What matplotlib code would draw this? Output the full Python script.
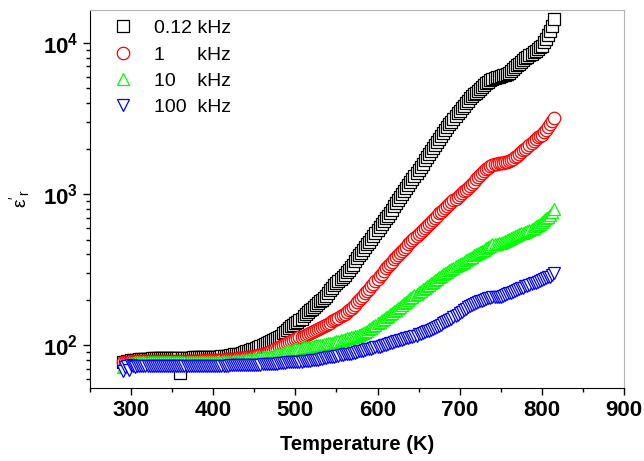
import matplotlib
matplotlib.use("Agg")
import matplotlib.pyplot as plt
from matplotlib.ticker import MultipleLocator, LogLocator, NullFormatter

plt.rcParams['font.family'] = 'Liberation Sans'
plt.rcParams['mathtext.fontset'] = 'custom'
plt.rcParams['mathtext.rm'] = 'Liberation Sans'
plt.rcParams['mathtext.bf'] = 'Liberation Sans:bold'
plt.rcParams['mathtext.it'] = 'Liberation Sans:italic'
plt.rcParams['mathtext.default'] = 'bf'

# temperature (K)
temp = [290.0, 292.5, 295.0, 297.5, 300.0, 302.5, 305.0, 307.5, 310.0, 312.5,
        315.0, 317.5, 320.0, 322.5, 325.0, 327.5, 330.0, 332.5, 335.0, 337.5,
        340.0, 342.5, 345.0, 347.5, 350.0, 352.5, 355.0, 357.5, 360.0, 362.5,
        365.0, 367.5, 370.0, 372.5, 375.0, 377.5, 380.0, 382.5, 385.0, 387.5,
        390.0, 392.5, 395.0, 397.5, 400.0, 402.5, 405.0, 407.5, 410.0, 412.5,
        415.0, 417.5, 420.0, 422.5, 425.0, 427.5, 430.0, 432.5, 435.0, 437.5,
        440.0, 442.5, 445.0, 447.5, 450.0, 452.5, 455.0, 457.5, 460.0, 462.5,
        465.0, 467.5, 470.0, 472.5, 475.0, 477.5, 480.0, 482.5, 485.0, 487.5,
        490.0, 492.5, 495.0, 497.5, 500.0, 502.5, 505.0, 507.5, 510.0, 512.5,
        515.0, 517.5, 520.0, 522.5, 525.0, 527.5, 530.0, 532.5, 535.0, 537.5,
        540.0, 542.5, 545.0, 547.5, 550.0, 552.5, 555.0, 557.5, 560.0, 562.5,
        565.0, 567.5, 570.0, 572.5, 575.0, 577.5, 580.0, 582.5, 585.0, 587.5,
        590.0, 592.5, 595.0, 597.5, 600.0, 602.5, 605.0, 607.5, 610.0, 612.5,
        615.0, 617.5, 620.0, 622.5, 625.0, 627.5, 630.0, 632.5, 635.0, 637.5,
        640.0, 642.5, 645.0, 647.5, 650.0, 652.5, 655.0, 657.5, 660.0, 662.5,
        665.0, 667.5, 670.0, 672.5, 675.0, 677.5, 680.0, 682.5, 685.0, 687.5,
        690.0, 692.5, 695.0, 697.5, 700.0, 702.5, 705.0, 707.5, 710.0, 712.5,
        715.0, 717.5, 720.0, 722.5, 725.0, 727.5, 730.0, 732.5, 735.0, 737.5,
        740.0, 742.5, 745.0, 747.5, 750.0, 752.5, 755.0, 757.5, 760.0, 762.5,
        765.0, 767.5, 770.0, 772.5, 775.0, 777.5, 780.0, 782.5, 785.0, 787.5,
        790.0, 792.5, 795.0, 797.5, 800.0, 802.5, 805.0, 807.5, 810.0, 812.5,
        815.0]

# dielectric constant at 0.12 kHz
eps_012k = [78, 78, 79, 79, 80, 80, 80, 80, 81, 81,
            81, 81, 81, 81, 82, 82, 82, 82, 82, 82,
            82, 82, 82, 82, 82, 82, 82, 82, 66, 82,
            82, 82, 82, 82, 83, 83, 83, 83, 83, 83,
            83, 83, 83, 83, 84, 84, 84, 84, 85, 85,
            85, 85, 86, 86, 87, 87, 88, 88, 89, 90,
            91, 92, 93, 94, 95, 96, 98, 99, 101, 102,
            104, 105, 107, 108, 110, 111, 113, 116, 120, 123,
            127, 130, 134, 137, 140, 143, 146, 150, 155, 160,
            165, 170, 175, 180, 185, 190, 195, 200, 205, 213,
            222, 231, 240, 250, 260, 268, 276, 284, 293, 304,
            315, 327, 340, 360, 380, 395, 410, 427, 445, 465,
            485, 507, 530, 555, 580, 605, 630, 660, 690, 720,
            750, 790, 830, 870, 910, 955, 1000, 1050, 1100, 1150,
            1200, 1260, 1320, 1385, 1450, 1520, 1590, 1670, 1750, 1835,
            1920, 2010, 2100, 2200, 2300, 2410, 2520, 2640, 2760, 2890,
            3020, 3160, 3300, 3420, 3550, 3700, 3850, 4000, 4150, 4300,
            4450, 4580, 4700, 4820, 4950, 5100, 5250, 5400, 5550, 5680,
            5800, 5880, 5950, 6000, 6050, 6100, 6150, 6250, 6350, 6520,
            6700, 6900, 7100, 7300, 7500, 7700, 7900, 8100, 8300, 8500,
            8700, 8900, 9100, 9350, 9600, 10100, 10600, 11300, 12000, 13000,
            14500]

# 1 kHz
eps_1k = [77, 77, 78, 78, 79, 79, 79, 79, 79, 79,
          79, 79, 79, 79, 79, 79, 79, 79, 79, 79,
          79, 79, 79, 79, 79, 79, 79, 79, 79, 79,
          79, 79, 79, 79, 79, 79, 79, 79, 79, 80,
          80, 80, 80, 80, 80, 80, 80, 80, 80, 80,
          81, 81, 81, 81, 81, 81, 82, 82, 82, 82,
          83, 83, 84, 84, 85, 85, 86, 86, 87, 88,
          89, 90, 91, 92, 94, 95, 97, 99, 101, 102,
          104, 105, 107, 108, 110, 111, 113, 114, 116, 117,
          119, 120, 122, 124, 126, 128, 130, 132, 134, 136,
          139, 141, 144, 146, 149, 152, 155, 158, 161, 165,
          170, 175, 180, 186, 192, 198, 205, 212, 220, 228,
          237, 246, 256, 266, 276, 287, 298, 310, 322, 334,
          347, 358, 370, 382, 395, 408, 422, 436, 450, 465,
          480, 496, 512, 528, 545, 562, 580, 599, 618, 638,
          658, 679, 700, 722, 745, 767, 790, 812, 835, 860,
          885, 910, 935, 962, 990, 1017, 1045, 1072, 1100, 1135,
          1170, 1210, 1250, 1290, 1330, 1375, 1420, 1460, 1500, 1530,
          1560, 1575, 1590, 1595, 1600, 1610, 1620, 1640, 1660, 1690,
          1720, 1760, 1800, 1845, 1890, 1945, 2000, 2060, 2120, 2185,
          2250, 2310, 2370, 2425, 2480, 2560, 2650, 2770, 2900, 3030,
          3180]

# 10 kHz
eps_10k = [72, 73, 74, 75, 76, 76, 77, 77, 77, 77,
           77, 77, 77, 77, 77, 77, 77, 77, 77, 77,
           77, 77, 77, 77, 77, 77, 77, 77, 77, 77,
           77, 77, 77, 77, 77, 77, 77, 77, 77, 77,
           77, 77, 77, 77, 77, 77, 78, 78, 78, 78,
           78, 78, 78, 78, 78, 78, 79, 79, 79, 79,
           80, 80, 80, 80, 81, 81, 82, 82, 83, 83,
           84, 84, 85, 85, 86, 87, 88, 88, 89, 90,
           91, 91, 92, 93, 94, 94, 95, 96, 97, 97,
           98, 98, 99, 99, 100, 100, 101, 101, 102, 102,
           103, 103, 104, 105, 106, 107, 108, 109, 110, 111,
           112, 113, 114, 115, 116, 117, 119, 121, 123, 125,
           128, 131, 134, 137, 140, 143, 146, 149, 153, 156,
           160, 164, 168, 172, 176, 180, 185, 189, 194, 199,
           204, 209, 214, 219, 225, 230, 236, 241, 247, 252,
           258, 264, 270, 276, 282, 288, 295, 301, 307, 313,
           320, 326, 332, 338, 345, 351, 358, 365, 372, 379,
           386, 393, 400, 407, 415, 422, 430, 438, 447, 456,
           465, 468, 470, 472, 475, 482, 490, 497, 505, 512,
           520, 527, 535, 542, 550, 557, 565, 573, 582, 591,
           600, 612, 625, 637, 650, 670, 690, 710, 730, 760,
           800]

# 100 kHz
eps_100k = [68, 72, 73, 69, 74, 73, 72, 73, 73, 73,
            73, 73, 73, 73, 73, 73, 73, 73, 73, 73,
            73, 73, 73, 73, 73, 73, 73, 73, 73, 73,
            73, 73, 73, 73, 73, 73, 73, 73, 73, 73,
            73, 73, 73, 73, 73, 73, 73, 73, 73, 73,
            73, 73, 74, 74, 74, 74, 74, 74, 74, 74,
            74, 74, 74, 74, 74, 74, 74, 74, 75, 75,
            75, 75, 75, 75, 75, 75, 76, 76, 76, 76,
            77, 77, 77, 77, 78, 78, 78, 78, 79, 79,
            79, 79, 80, 80, 80, 80, 81, 81, 82, 82,
            83, 83, 84, 84, 85, 85, 86, 86, 87, 87,
            88, 88, 89, 89, 90, 91, 92, 92, 93, 94,
            95, 95, 96, 97, 98, 98, 99, 100, 101, 102,
            103, 104, 105, 106, 107, 108, 109, 110, 111, 112,
            113, 114, 115, 116, 118, 119, 121, 122, 124, 125,
            127, 129, 131, 133, 135, 137, 140, 142, 145, 147,
            150, 153, 156, 159, 163, 166, 170, 174, 178, 181,
            184, 187, 190, 192, 195, 197, 200, 202, 204, 205,
            207, 207, 208, 209, 210, 212, 215, 217, 220, 223,
            226, 229, 232, 235, 238, 241, 245, 248, 251, 254,
            257, 260, 263, 266, 270, 273, 277, 281, 285, 292,
            300]

labels = ["0.12 kHz", "1      kHz", "10    kHz", "100  kHz"]
series = [eps_012k, eps_1k, eps_10k, eps_100k]
markers = ['s', 'o', '^', 'v']
colors = ['#000000', '#ff0000', '#00ff00', '#0000ff']

fig = plt.figure(figsize=(6.44, 4.61), dpi=100)
ax = fig.add_axes([0.1398, 0.158, 0.829, 0.820])

for vals, m, c, lab in zip(series, markers, colors, labels):
    ax.plot(temp, vals, linestyle='none', marker=m, ms=9, mew=0.9,
            mec=c, mfc='white', label=lab)

ax.set_yscale('log')
ax.set_xlim(250, 900)
ax.set_ylim(52, 16500)

ax.xaxis.set_major_locator(MultipleLocator(100))
ax.xaxis.set_minor_locator(MultipleLocator(50))
ax.yaxis.set_major_locator(LogLocator(base=10))
ax.yaxis.set_minor_locator(LogLocator(base=10, subs=range(2, 10)))
ax.yaxis.set_minor_formatter(NullFormatter())

ax.tick_params(which='both', direction='out', top=False, right=False)
ax.tick_params(which='major', length=5, width=1, labelsize=16)
ax.tick_params(which='minor', length=3, width=1)
for lab in ax.get_xticklabels() + ax.get_yticklabels():
    lab.set_fontweight('bold')

for side in ['top', 'right']:
    ax.spines[side].set_color('#b4b4b4')
for side in ['left', 'bottom']:
    ax.spines[side].set_color('black')

ax.set_xlabel('Temperature (K)', fontsize=14.5, fontweight='bold', labelpad=10)
ax.set_ylabel(r"$\mathrm{\varepsilon'_{r}}$", fontsize=14, labelpad=8)

ax.legend(loc='upper left', bbox_to_anchor=(0.04, 0.975), frameon=False,
          fontsize=14, handletextpad=1.0, labelspacing=0.45,
          borderaxespad=0, handlelength=1.2, borderpad=0)

fig.savefig('out.png', dpi=100)
